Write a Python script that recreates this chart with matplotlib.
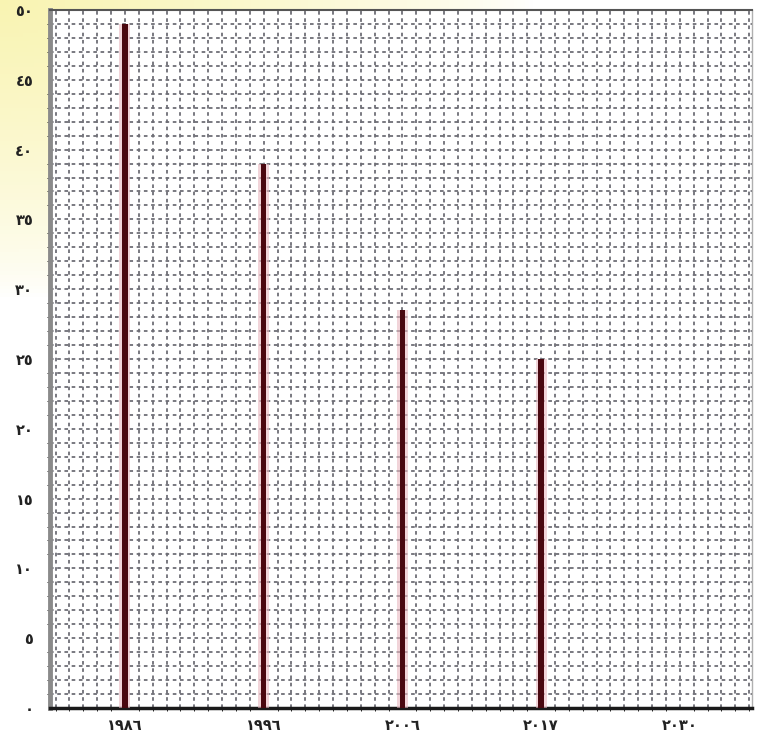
import numpy as np
import matplotlib
matplotlib.use("Agg")
import matplotlib.pyplot as plt
from matplotlib.ticker import MultipleLocator

# data
years = ["١٩٨٦", "١٩٩٦", "٢٠٠٦", "٢٠١٧", "٢٠٣٠"]
values = [49, 39, 28.5, 25, np.nan]
y_ticks = [0, 5, 10, 15, 20, 25, 30, 35, 40, 45, 50]
y_tick_labels = ["٠", "٥", "١٠", "١٥", "٢٠", "٢٥", "٣٠", "٣٥", "٤٠", "٤٥", "٥٠"]

fig = plt.figure(figsize=(7.61, 7.42), dpi=100, facecolor="white")

# faint yellow wash in the upper-left corner of the scan
bg = fig.add_axes([0, 0, 1, 1], zorder=-5)
yy, xx = np.mgrid[0:1:200j, 0:1:200j]
dist = np.sqrt((xx / 0.7) ** 2 + (yy / 0.4) ** 2)
alpha = np.clip(1 - dist, 0, 1) ** 0.7
rgba = np.zeros((200, 200, 4))
rgba[..., 0] = 0.98
rgba[..., 1] = 0.96
rgba[..., 2] = 0.70
rgba[..., 3] = alpha
bg.imshow(rgba, extent=[0, 1, 0, 1], origin="upper", aspect="auto")
bg.set_axis_off()

ax = fig.add_axes([50 / 761, 1 - 708 / 742, 702 / 761, 698 / 742])
ax.set_facecolor("white")

x = np.arange(len(years))
# pinkish halo then the dark red stem
ax.bar(x, values, width=0.08, color="#e8b8c0", alpha=0.6, zorder=3)
ax.bar(x, values, width=0.04, color="#4a0810", zorder=4)

ax.set_xlim(-0.54, 4.52)
ax.set_ylim(0, 50)
ax.set_xticks(x)
ax.set_xticklabels(years, fontsize=10.5, fontweight="bold", family="DejaVu Sans")
ax.set_yticks(y_ticks)
ax.set_yticklabels(y_tick_labels, fontsize=10.5, fontweight="bold", family="DejaVu Sans")
ax.tick_params(axis="x", length=0, pad=7, colors="#222222")
ax.tick_params(axis="y", length=0, pad=12, colors="#222222")

ax.xaxis.set_minor_locator(MultipleLocator(0.1))
ax.yaxis.set_minor_locator(MultipleLocator(1))
ax.grid(which="both", color="#6e6e76", linestyle=(0, (2, 2)), linewidth=1.3, zorder=0)
ax.set_axisbelow(True)

ax.spines["left"].set_color("#8a8a8a")
ax.spines["left"].set_linewidth(3.5)
ax.spines["bottom"].set_color("#1a1a1a")
ax.spines["bottom"].set_linewidth(2.5)
ax.spines["top"].set_color("#555555")
ax.spines["top"].set_linewidth(1.5)
ax.spines["right"].set_color("#b0b0b0")
ax.spines["right"].set_linewidth(1.0)

fig.savefig("out.png", dpi=100, facecolor=fig.get_facecolor())
